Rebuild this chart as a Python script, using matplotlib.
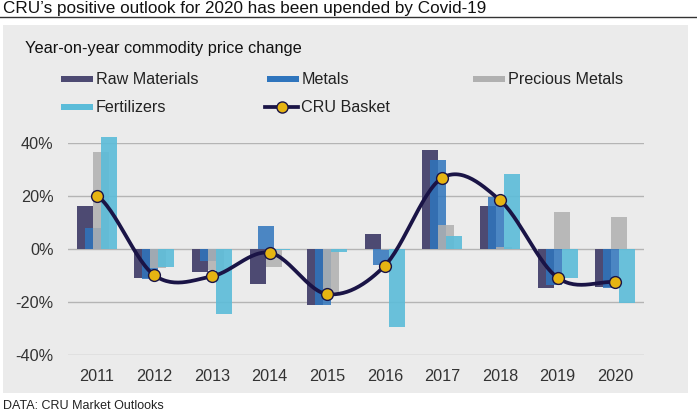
import numpy as np
import matplotlib.pyplot as plt
from matplotlib.patches import Rectangle
from matplotlib.lines import Line2D

plt.rcParams['font.family'] = ['Liberation Sans', 'DejaVu Sans']

years = ['2011', '2012', '2013', '2014', '2015', '2016', '2017', '2018', '2019', '2020']
raw_materials = [16.2, -10.7, -8.6, -13.0, -21.1, 5.8, 37.5, 16.5, -14.7, -14.2]
metals = [8.0, -11.3, -4.4, 8.8, -21.0, -5.8, 33.7, 19.9, -13.5, -14.5]
precious_metals = [36.7, -6.9, -7.7, -6.7, -16.0, -0.3, 9.0, 0.9, 14.1, 12.2]
fertilizers = [42.4, -6.7, -24.5, -0.4, -1.1, -29.5, 4.9, 28.6, -10.9, -20.3]
cru_basket = [20.3, -9.8, -10.2, -1.3, -16.9, -6.2, 27.0, 18.5, -10.7, -12.3]

W, H = 697, 413
fig = plt.figure(figsize=(W / 100, H / 100), dpi=100)
fig.patch.set_facecolor('white')

def px(x, y):
    # pixel coords (from top-left) -> figure fraction
    return x / W, 1 - y / H

# grey panel and title rule
x0, y0 = px(3, 393)
fig.add_artist(Rectangle((x0, y0), 685 / W, 368 / H, transform=fig.transFigure,
                         facecolor='#ebebeb', edgecolor='none', zorder=0))
fig.add_artist(Line2D([0, 1], [1 - 17 / H] * 2, transform=fig.transFigure,
                      color='#333333', lw=1))
fig.text(*px(3, 8), "CRU\u2019s positive outlook for 2020 has been upended by Covid-19",
         fontsize=12.3, va='center', ha='left', color='#111111')
fig.text(*px(25, 48), "Year-on-year commodity price change",
         fontsize=11.8, va='center', ha='left', color='#111111')
fig.text(*px(3, 406), "DATA: CRU Market Outlooks",
         fontsize=9, va='center', ha='left', color='#222222')

c_raw = '#4d4a72'
c_met = '#2f75bd'
c_pre = '#b0b0b0'
c_fer = '#5bbcd9'

ax = fig.add_axes([68 / W, (H - 355.3) / H, 576 / W, 212 / H])
ax.set_facecolor('none')
x = np.arange(len(years))
bw = 16 / 57.6
offs = np.array([-12, -4, 4, 12]) / 57.6
series = [(raw_materials, c_raw, 1.0), (metals, c_met, 0.85),
          (precious_metals, c_pre, 0.85), (fertilizers, c_fer, 0.9)]
for (vals, col, a), o in zip(series, offs):
    ax.bar(x + o, vals, width=bw, color=col, alpha=a, zorder=2, clip_on=False)

# smoothed line (Catmull-Rom through the basket points)
xs, ys = [], []
p = np.array(cru_basket)
pe = np.concatenate([[p[0]], p, [p[-1]]])
for i in range(len(p) - 1):
    t = np.linspace(0, 1, 30)
    p0, p1, p2, p3 = pe[i], pe[i + 1], pe[i + 2], pe[i + 3]
    yy = 0.5 * (2 * p1 + (-p0 + p2) * t + (2 * p0 - 5 * p1 + 4 * p2 - p3) * t ** 2
                + (-p0 + 3 * p1 - 3 * p2 + p3) * t ** 3)
    xs.extend(i + t)
    ys.extend(yy)
ax.plot(xs, ys, color='#1a1446', lw=2.7, zorder=3, solid_capstyle='round')
ax.plot(x, cru_basket, ls='none', marker='o', ms=8.5, mfc='#e6b412',
        mec='#1a1446', mew=1, zorder=4)

ax.set_xlim(-0.5, len(years) - 0.5)
ax.set_ylim(-40, 40)
ax.set_yticks([-40, -20, 0, 20, 40])
ax.set_yticklabels(['-40%', '-20%', '0%', '20%', '40%'])
ax.set_xticks(x)
ax.set_xticklabels(years)
ax.tick_params(length=0, labelsize=11.7, colors='#333333')
ax.tick_params(axis='y', pad=10.5)
ax.tick_params(axis='x', pad=10)
ax.grid(axis='y', color='#b4b4b4', lw=1, zorder=1)
ax.set_axisbelow(True)
for s in ax.spines.values():
    s.set_visible(False)

# legend drawn by hand
items = [('Raw Materials', c_raw, 61, 79), ('Metals', c_met, 267, 79),
         ('Precious Metals', c_pre, 473, 79), ('Fertilizers', c_fer, 61, 107)]
for lab, col, lx, ly in items:
    fx, fy = px(lx, ly + 3)
    fig.add_artist(Rectangle((fx, fy), 32 / W, 6 / H, transform=fig.transFigure,
                             facecolor=col, edgecolor='none'))
    fig.text(*px(lx + 35, ly), lab, fontsize=11.6, va='center', ha='left', color='#222222')
fx1, fy1 = px(265, 107)
fx2, _ = px(298, 107)
fig.add_artist(Line2D([fx1, fx2], [fy1, fy1], transform=fig.transFigure,
                      color='#1a1446', lw=2.7))
fig.add_artist(Line2D([(fx1 + fx2) / 2], [fy1], transform=fig.transFigure,
                      marker='o', ms=8, mfc='#e6b412', mec='#1a1446', mew=1))
fig.text(*px(301, 107), 'CRU Basket', fontsize=11.6, va='center', ha='left', color='#222222')

fig.savefig('out.png', dpi=100)
